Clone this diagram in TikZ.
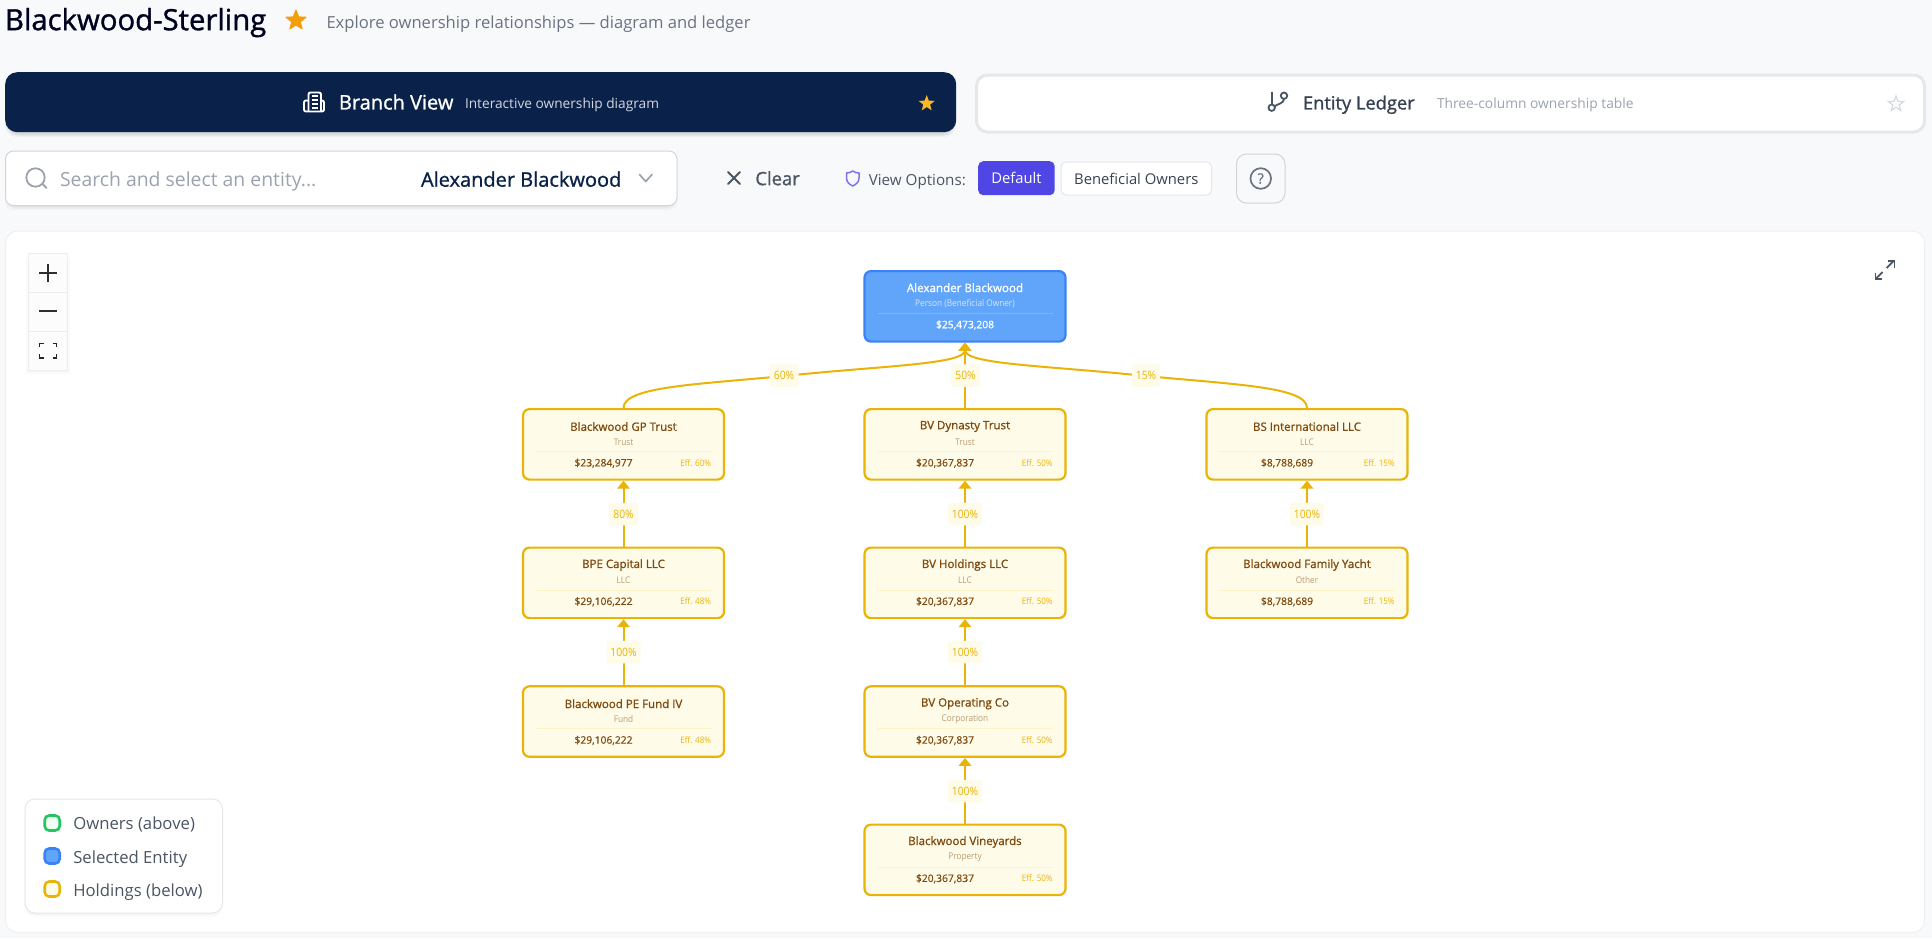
\documentclass[tikz,border=0pt]{standalone}
\usepackage{fontspec}
\setmainfont{Open Sans}
\newfontfamily\semi{Open Sans}[FakeBold=1.1]
\newfontfamily\med{Open Sans}[FakeBold=0.5]
\newfontfamily\narrow{Open Sans}[FakeStretch=0.9]
\usetikzlibrary{arrows.meta,shapes.geometric}
\definecolor{pagebg}{HTML}{F8F9FB}
\definecolor{navy}{HTML}{0A2249}
\definecolor{gold}{HTML}{EAB308}
\definecolor{paleyellow}{HTML}{FEFBE8}
\definecolor{brownt}{HTML}{7F4A10}
\definecolor{browns}{HTML}{B89E74}
\definecolor{divy}{HTML}{FDF3C7}
\definecolor{blueb}{HTML}{3B82F6}
\definecolor{bluef}{HTML}{60A5FA}
\definecolor{blued}{HTML}{7DB4FB}
\definecolor{paleblue}{HTML}{D5E6FD}
\definecolor{g3}{HTML}{374151}
\definecolor{g4}{HTML}{9CA3AF}
\definecolor{g5}{HTML}{6B7280}
\definecolor{g6}{HTML}{4B5563}
\definecolor{lineg}{HTML}{E5E7EB}
\definecolor{indigo}{HTML}{4F46E5}
\definecolor{amber}{HTML}{F59E0B}
\definecolor{ambl}{HTML}{FBB724}
\definecolor{greenb}{HTML}{22C55E}
\definecolor{greenf}{HTML}{F0FDF4}
\newcommand\fs[1]{\fontsize{#1}{#1}\selectfont}
\tikzset{
 x=1pt,y=-1pt,
 uitext/.style={inner sep=0,outer sep=0},
 ent/.style={draw=gold,fill=paleyellow,line width=2.2pt,rounded corners=6.5pt,minimum width=201pt,minimum height=70.5pt,inner sep=0},
 rootbox/.style={draw=blueb,fill=bluef,line width=2.2pt,rounded corners=6.5pt,minimum width=201pt,minimum height=70.5pt,inner sep=0},
 edge/.style={draw=gold,line width=2pt,-{Triangle[width=12.5pt,length=8pt]}},
 pct/.style={fill=paleyellow,rounded corners=3pt,text=gold,inner sep=0,minimum height=22.5pt,font=\narrow\fs{11.5}},
 swatch/.style={line width=2.6pt,rounded corners=4.5pt,minimum size=15pt,inner sep=0},
 legendtxt/.style={uitext,anchor=mid west,text=g6,font=\fs{16.7}},
 zoomcell/.style={fill=white!99!black,draw=black!7,line width=1pt,inner sep=0,minimum width=39pt,minimum height=39pt},
}
% rectangle as named node: name x1 y1 x2 y2 style
\newcommand\uibox[6]{\node[inner sep=0,anchor=north west,minimum width={#4-#2},minimum height={#5-#3},#6] (#1) at (#2,#3) {};}
\newcommand\softshadow[6]{\foreach \k in {0,1,2,3}{\fill[black,opacity=#6,rounded corners=#5] ({#1-\k},{#2+\k+1}) rectangle ({#3+\k},{#4+\k+1});}}
% entity: name cx top title sub value eff
\newcommand\entity[7]{%
 \node[ent,anchor=north] (#1) at (#2,{#3-0.5}) {};
 \node[uitext,text=brownt,font=\semi\fs{11.5}] (#1t) at (#2,{#3+18}) {#4};
 \node[uitext,text=browns,font=\narrow\fs{9.2}] (#1s) at (#2,{#3+33.3}) {#5};
 \draw[divy,line width=1pt] ({#2-87.5},{#3+43}) -- ({#2+87.5},{#3+43});
 \node[uitext,text=brownt,font=\med\fs{10.3}] (#1v) at ({#2-20},{#3+54.7}) {#6};
 \node[uitext,anchor=mid east,text=gold,font=\narrow\fs{8.9}] (#1e) at ({#2+87.5},{#3+55.3}) {#7};
}
\begin{document}
\begin{tikzpicture}
\useasboundingbox (0,0) rectangle (1932,938);
\fill[pagebg] (0,0) rectangle (1932,938);
% header
\node[uitext,anchor=mid west,text=black!88!blue,font=\semi\fs{29.3}] (title) at (5,27.5) {Blackwood-Sterling};
\node[star,star points=5,star point ratio=2.35,fill=amber,draw=amber,line width=1pt,line join=round,minimum size=21pt,inner sep=0] (titlestar) at (296,20.5) {};
\node[uitext,anchor=mid west,text=g5,font=\fs{16.6}] (subtitle) at (326.5,25.5) {Explore ownership relationships — diagram and ledger};
% tabs
\softshadow{8}{76}{953}{133}{12pt}{0.035}
\uibox{branchtab}{5}{72}{956}{132}{fill=navy,rounded corners=12pt}
\draw[white,line width=1.9pt,rounded corners=2pt] (308.5,111) -- (308.5,92.5) -- (321,92.5) -- (321,111);
\draw[white,line width=1.9pt,rounded corners=2pt] (308.5,100.5) -- (304,100.5) -- (304,111.5) -- (324,111.5) -- (324,100.5) -- (321,100.5);
\foreach \yy in {96,100,104,108}{\draw[white,line width=1.5pt] (311.5,\yy) -- (318,\yy);}
\node[uitext,anchor=mid west,text=white,font=\semi\fs{20}] (branchlabel) at (339,106.8) {Branch View};
\node[uitext,anchor=mid west,text=white!82!navy,font=\fs{13.7}] (branchsub) at (465,106) {Interactive ownership diagram};
\node[star,star points=5,star point ratio=2.4,fill=ambl,minimum size=17pt,inner sep=0] (branchstar) at (926.7,103.5) {};
\uibox{ledgertab}{975}{73.5}{1923}{130.5}{fill=white,draw=lineg,line width=3pt,rounded corners=11pt}
\draw[g6,line width=1.8pt] (1271.7,91.7) -- (1271.7,104.5);
\draw[g6,line width=1.8pt] (1271.7,107.7) circle[radius=3.2];
\draw[g6,line width=1.8pt] (1284,95.7) circle[radius=3.2];
\draw[g6,line width=1.8pt] (1284,99) .. controls (1284,103) and (1278,104) .. (1275,106);
\node[uitext,anchor=mid west,text=g3,font=\semi\fs{18.3}] (ledgerlabel) at (1303,106.8) {Entity Ledger};
\node[uitext,anchor=mid west,text=g4,font=\fs{13.8}] (ledgersub) at (1437,106) {Three-column ownership table};
\node[star,star points=5,star point ratio=2.4,draw=lineg!80!g4,line width=1.2pt,minimum size=16pt,inner sep=0] (ledgerstar) at (1896,104) {};
% search
\softshadow{8}{153}{674}{206}{8pt}{0.02}
\uibox{searchbox}{5}{150.5}{676.5}{205}{fill=white,draw=black!17,line width=1pt,rounded corners=8pt}
\draw[g4,line width=1.8pt] (35.5,177.5) circle[radius=9.2];
\draw[g4,line width=1.8pt,line cap=round] (42.5,184) -- (46.5,188);
\node[uitext,anchor=mid west,text=g4,font=\fs{19.4}] (searchph) at (60,184) {Search and select an entity...};
\node[uitext,anchor=mid west,text=navy,font=\semi\fs{20}] (searchval) at (421,184) {Alexander Blackwood};
\draw[g4,line width=1.7pt,line cap=round,line join=round] (639.5,174.5) -- (645.7,181.5) -- (652,174.5);
\draw[g6,line width=1.9pt,line cap=round] (728,172) -- (740,184) (740,172) -- (728,184);
\node[uitext,anchor=mid west,text=g6,font=\semi\fs{18.4}] (clearlabel) at (755.4,182.5) {Clear};
\draw[indigo!75!white,line width=1.5pt,line join=round] (852.7,171) .. controls (855,172.5) and (857,173) .. (859,173) -- (859,178) .. controls (859,182) and (856,184.5) .. (852.7,186) .. controls (849.4,184.5) and (846.5,182) .. (846.5,178) -- (846.5,173) .. controls (848.5,173) and (850.5,172.5) .. (852.7,171) -- cycle;
\node[uitext,anchor=mid west,text=g6,font=\fs{15.2}] (optlabel) at (868.8,183) {View Options:};
\uibox{defaultbtn}{978}{161}{1054.5}{195}{fill=indigo,rounded corners=5pt}
\node[uitext,text=white,font=\fs{14.8}] (defaultlbl) at (defaultbtn.center) {Default};
\uibox{beneficialbtn}{1060.5}{161.5}{1211}{194.5}{fill=white,draw=lineg,line width=1pt,rounded corners=5pt}
\node[uitext,text=g3,font=\fs{14.8}] (beneficiallbl) at (beneficialbtn.center) {Beneficial Owners};
\uibox{helpbtn}{1236}{153.5}{1284.5}{202.5}{fill=pagebg,draw=black!17,line width=1pt,rounded corners=10pt}
\draw[g5,line width=1.7pt] (helpbtn.center) circle[radius=10.3];
\node[uitext,text=g5,font=\semi\fs{14}] (helpq) at (helpbtn.center) {?};
% main card
\uibox{card}{5}{230.5}{1924}{932}{fill=white,draw=black!6,line width=1pt,rounded corners=12pt}
% zoom controls
\softshadow{28}{254}{68}{371}{1pt}{0.008}
\node[zoomcell] (zin) at (48,272.8) {};
\node[zoomcell] (zout) at (48,311.8) {};
\node[zoomcell] (zfit) at (48,350.8) {};
\draw[black!82,line width=2.4pt] (39,272.7) -- (57,272.7) (48,263.5) -- (48,282);
\draw[black!82,line width=2.4pt] (39,311) -- (57,311);
\draw[black!85,line width=1.9pt] (39.5,347) -- (39.5,343.5) -- (43.5,343.5) (52.5,343.5) -- (56.5,343.5) -- (56.5,347) (56.5,354) -- (56.5,358) -- (52.5,358) (43.5,358) -- (39.5,358) -- (39.5,354);
% expand icon
\draw[g6,line width=1.8pt] (1893.5,261) -- (1886.5,268) (1875.5,279) -- (1882.5,272);
\draw[g6,line width=1.8pt] (1888,261) -- (1894.5,261) -- (1894.5,267.5);
\draw[g6,line width=1.8pt] (1875.5,272.5) -- (1875.5,279) -- (1882,279);
% legend
\softshadow{27}{801}{220}{913}{10pt}{0.012}
\uibox{legendbox}{24.5}{798.5}{222}{912.5}{fill=white,draw=lineg,line width=1pt,rounded corners=10pt}
\node[swatch,draw=greenb,fill=greenf] (s1) at (52.2,823) {};
\node[swatch,draw=blueb,fill=bluef] (s2) at (52.2,856) {};
\node[swatch,draw=gold,fill=paleyellow] (s3) at (52.2,889) {};
\node[legendtxt] (l1) at (73.3,827) {Owners (above)};
\node[legendtxt] (l2) at (73.3,860.5) {Selected Entity};
\node[legendtxt] (l3) at (73.3,893.5) {Holdings (below)};
% root
\node[rootbox,anchor=north] (root) at (965,270) {};
\node[uitext,text=white,font=\semi\fs{11.6}] (roott) at (965,287.7) {Alexander Blackwood};
\node[uitext,text=paleblue,font=\narrow\fs{9.2}] (roots) at (965,304) {Person (Beneficial Owner)};
\draw[blued,line width=1pt] (877.5,313) -- (1052.5,313);
\node[uitext,text=white,font=\semi\fs{10.3}] (rootv) at (965,325) {\$25,473,208};
% entities
\entity{gp}{623.5}{408.5}{Blackwood GP Trust}{Trust}{\$23,284,977}{Eff. 60\%}
\entity{bpe}{623.5}{547}{BPE Capital LLC}{LLC}{\$29,106,222}{Eff. 48\%}
\entity{fund}{623.5}{685.7}{Blackwood PE Fund IV}{Fund}{\$29,106,222}{Eff. 48\%}
\entity{dyn}{965}{408.5}{BV Dynasty Trust}{Trust}{\$20,367,837}{Eff. 50\%}
\entity{hold}{965}{547}{BV Holdings LLC}{LLC}{\$20,367,837}{Eff. 50\%}
\entity{opco}{965}{685.7}{BV Operating Co}{Corporation}{\$20,367,837}{Eff. 50\%}
\entity{vine}{965}{824}{Blackwood Vineyards}{Property}{\$20,367,837}{Eff. 50\%}
\entity{bsi}{1307}{408.5}{BS International LLC}{LLC}{\$8,788,689}{Eff. 15\%}
\entity{yacht}{1307}{547}{Blackwood Family Yacht}{Other}{\$8,788,689}{Eff. 15\%}
% connectors
\coordinate (midl) at (794,375);
\coordinate (midr) at (1136,375);
\draw[edge] (gp.north) .. controls (623.5,386) and (700,384.5) .. (midl) .. controls (888,365.5) and (965,364) .. (root.south);
\draw[edge] (bsi.north) .. controls (1307,386) and (1230,384.5) .. (midr) .. controls (1042,365.5) and (965,364) .. (root.south);
\draw[edge] (dyn.north) -- (root.south);
\draw[edge] (bpe.north) -- (gp.south);
\draw[edge] (fund.north) -- (bpe.south);
\draw[edge] (hold.north) -- (dyn.south);
\draw[edge] (opco.north) -- (hold.south);
\draw[edge] (vine.north) -- (opco.south);
\draw[edge] (yacht.north) -- (bsi.south);
% edge labels
\node[pct,minimum width=29pt] (p1) at (784,375.5) {60\%};
\node[pct,minimum width=29pt] (p2) at (965.5,375.5) {50\%};
\node[pct,minimum width=28pt] (p3) at (1146,375.5) {15\%};
\node[pct,minimum width=29pt] (p4) at (623.5,514) {80\%};
\node[pct,minimum width=34pt] (p5) at (623.5,652) {100\%};
\node[pct,minimum width=34pt] (p6) at (965,514) {100\%};
\node[pct,minimum width=34pt] (p7) at (965,652) {100\%};
\node[pct,minimum width=34pt] (p8) at (965,791) {100\%};
\node[pct,minimum width=34pt] (p9) at (1307,514) {100\%};
\end{tikzpicture}
\end{document}
